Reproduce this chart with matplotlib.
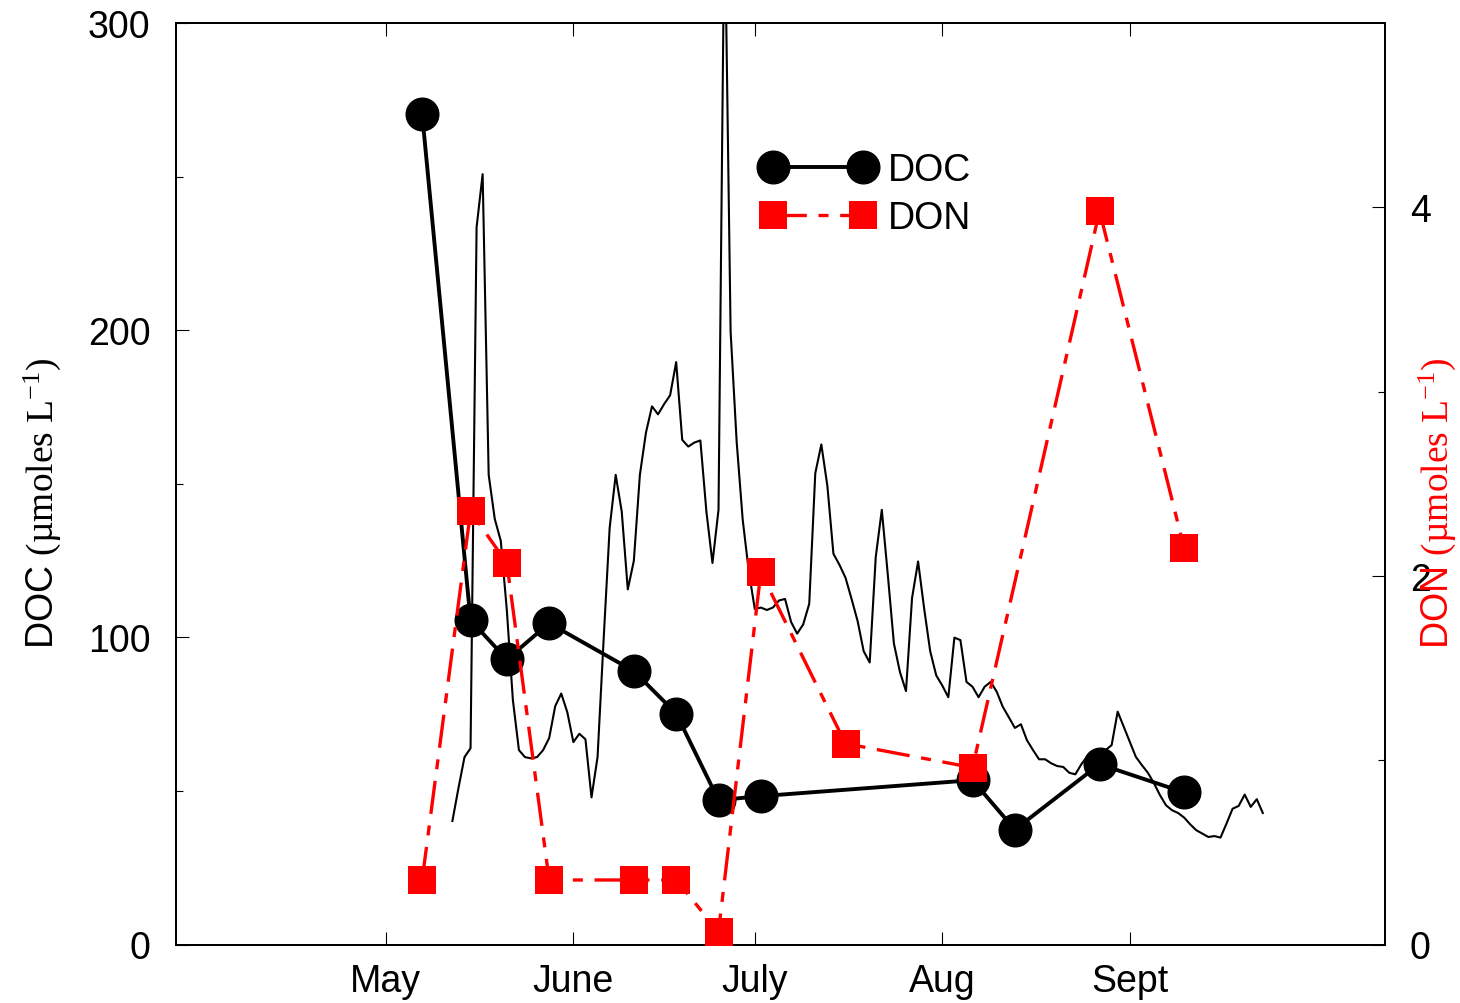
import numpy as np
import matplotlib
matplotlib.use("Agg")
import matplotlib.pyplot as plt
from matplotlib.ticker import FixedLocator

plt.rcParams['font.family'] = 'Liberation Sans'
plt.rcParams['mathtext.fontset'] = 'custom'
plt.rcParams['mathtext.rm'] = 'Liberation Serif'
plt.rcParams['mathtext.it'] = 'Liberation Serif:italic'
plt.rcParams['mathtext.sf'] = 'Liberation Sans'

# Bottle samples (day of year)
doc_days = [127, 135, 141, 148, 162, 169, 176, 183, 218, 225, 239, 253]
doc_values = [270.3, 105.6, 92.8, 104.6, 89.0, 75.2, 47.0, 48.3, 53.5, 37.4, 58.7, 49.5]

don_days = [127, 135, 141, 148, 162, 169, 176, 183, 197, 218, 239, 253]
don_values = [0.35, 2.35, 2.07, 0.35, 0.35, 0.35, 0.07, 2.02, 1.09, 0.96, 3.98, 2.15]

# Daily DOC record, day 132 to day 266
daily_start = 132
daily_doc = [
    40.2, 50.9, 61.0, 63.9, 233.5, 250.8, 152.9, 138.6, 131.4, 108.9,
    79.6, 63.3, 61.0, 60.6, 61.0, 63.3, 67.2, 77.6, 81.7, 75.6,
    65.9, 68.6, 66.8, 47.9, 61.0, 99.1, 135.6, 152.9, 140.9, 115.6,
    124.9, 152.9, 166.6, 175.2, 172.6, 175.9, 178.8, 189.6, 164.3, 162.1,
    163.4, 164.1, 140.9, 124.2, 141.5, 340.0, 199.6, 163.7, 138.3, 121.6,
    109.2, 109.7, 108.9, 109.7, 112.0, 112.5, 105.0, 101.2, 104.2, 110.9,
    153.4, 162.8, 149.3, 127.2, 123.6, 119.4, 112.5, 105.3, 95.5, 91.8,
    126.2, 141.5, 120.2, 98.0, 88.7, 82.5, 112.8, 124.7, 109.4, 95.5,
    87.6, 84.3, 80.5, 99.9, 99.1, 85.5, 83.9, 80.5, 83.9, 85.5,
    82.3, 77.4, 74.0, 70.5, 71.7, 66.5, 63.3, 60.3, 60.3, 59.0,
    58.1, 57.8, 55.9, 55.4, 58.7, 61.3, 62.0, 62.6, 63.3, 64.9,
    75.8, 70.9, 66.0, 61.1, 58.4, 55.9, 52.5, 48.6, 45.3, 43.7,
    42.8, 41.3, 39.1, 37.2, 36.1, 35.0, 35.3, 34.8, 39.4, 44.2,
    45.1, 48.8, 44.8, 47.3, 42.8,
]
daily_days = np.arange(daily_start, daily_start + len(daily_doc))

month_days = [121, 152, 182, 213, 244]
month_labels = ['May', 'June', 'July', 'Aug', 'Sept']

fs = 27
fig = plt.figure(figsize=(14.6, 10.04), dpi=100)
ax = fig.add_axes([176 / 1460, 58.5 / 1004, 1209 / 1460, 921.5 / 1004])
ax2 = ax.twinx()

ax.plot(daily_days, daily_doc, color='black', lw=1.5, zorder=1)
ax.plot(doc_days, doc_values, color='black', lw=2.8, marker='o',
        markersize=23.5, label='DOC', zorder=2)
ax2.plot(don_days, don_values, color='red', lw=2.4, marker='s',
         markersize=20, markeredgewidth=0, dashes=(10, 3.5, 3, 3.5),
         label='DON', zorder=3)

ax.set_xlim(86.3, 286.2)
ax.set_ylim(0, 300)
ax2.set_ylim(0, 5)

ax.set_xticks(month_days)
ax.set_xticklabels(month_labels)
ax.set_yticks([0, 100, 200, 300])
ax.yaxis.set_minor_locator(FixedLocator([50, 150, 250]))
ax2.set_yticks([0, 2, 4])
ax2.yaxis.set_minor_locator(FixedLocator([1, 3]))

ax.tick_params(axis='x', which='major', direction='in', top=True, bottom=True,
               length=9.4, width=0.8, labelsize=fs, pad=13)
ax.tick_params(axis='y', which='major', direction='in', left=True, right=False,
               length=9.4, width=0.8, labelsize=fs, pad=18.5)
ax.tick_params(axis='y', which='minor', direction='in', left=True, right=False,
               length=5, width=0.8)
ax2.tick_params(axis='y', which='major', direction='in', length=9.4, width=0.8,
                labelsize=fs, pad=18)
ax2.tick_params(axis='y', which='minor', direction='in', length=5, width=0.8)

for a in (ax, ax2):
    for s in a.spines.values():
        s.set_linewidth(1.4)

fig.text(42 / 1460, 0.499, r'DOC $\mathrm{(µmoles\ L^{-1})}$', rotation=90,
         ha='center', va='center', fontsize=fs)
fig.text(1437 / 1460, 0.499, r'DON $\mathrm{(µmoles\ L^{-1})}$', rotation=90,
         ha='center', va='center', fontsize=fs, color='red')

h1, l1 = ax.get_legend_handles_labels()
h2, l2 = ax2.get_legend_handles_labels()
ax2.legend(h1 + h2, l1 + l2, loc='upper left', bbox_to_anchor=(0.4847, 0.860),
           frameon=False, fontsize=fs, numpoints=2, handlelength=3.0,
           handletextpad=0.35, labelspacing=0.33, borderpad=0, borderaxespad=0)

fig.savefig('out.png', dpi=100)
